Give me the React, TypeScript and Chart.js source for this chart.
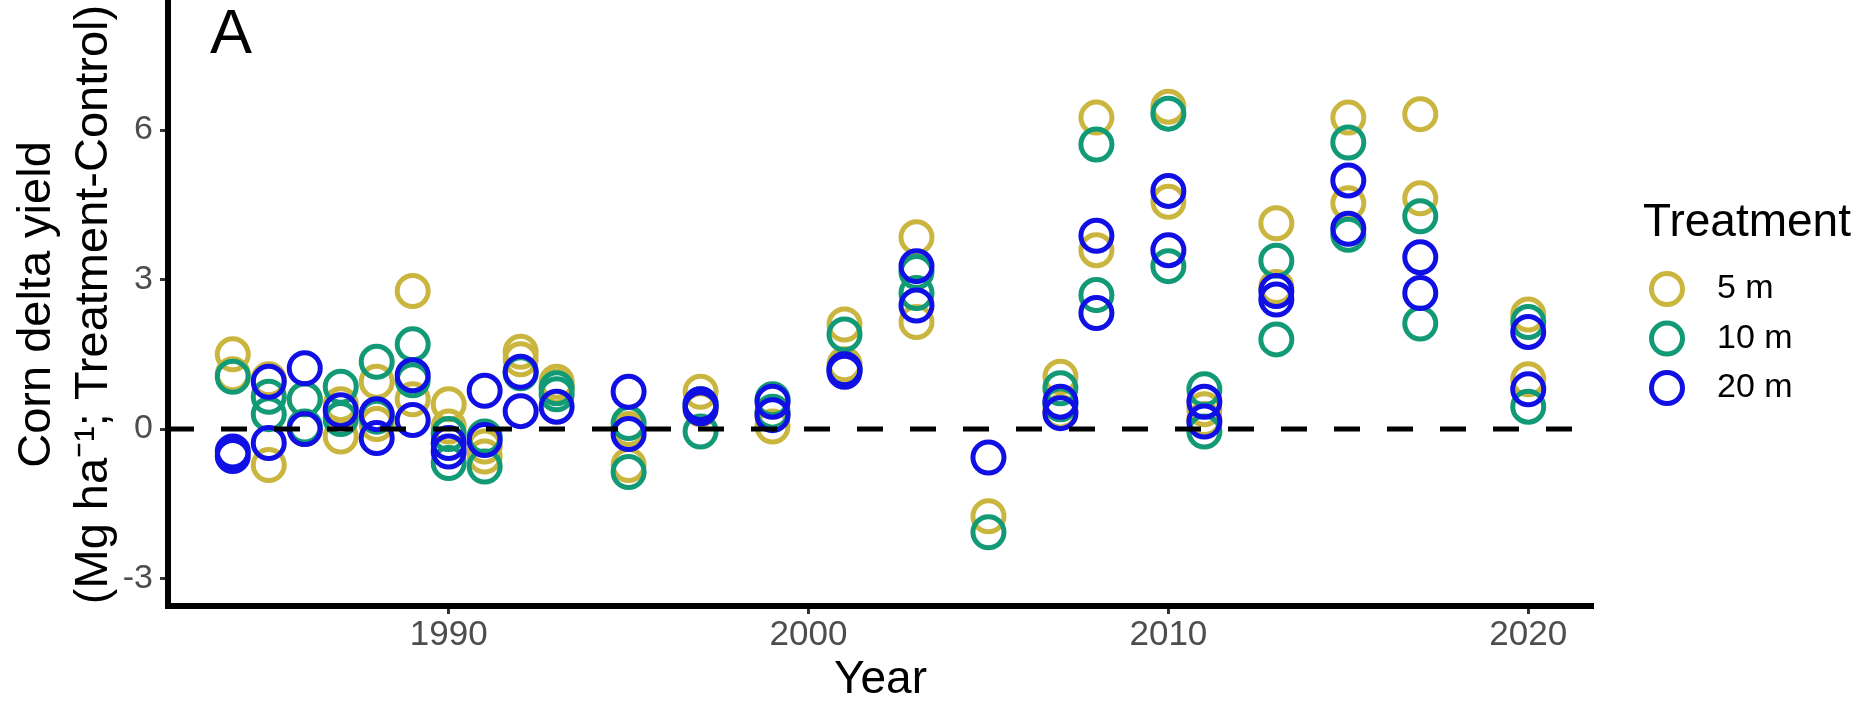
import React, { useEffect, useRef } from 'react';
import { Chart, registerables } from 'chart.js';

Chart.register(...registerables);

const FONT = "'Liberation Sans', Arial, sans-serif";

// Harvest years with yield deltas
const years = [
  1984, 1985, 1986, 1987, 1988, 1989, 1990, 1991, 1992, 1993, 1995, 1997,
  1999, 2001, 2003, 2005, 2007, 2008, 2010, 2011, 2013, 2015, 2017, 2020,
];

// Corn delta yield (Mg/ha, treatment minus control), two plots per year;
// null where a year has a single value
const delta5m: (number | null)[][] = [
  [1.5, 1.1], [1.0, -0.72], [0.6, 0.0], [0.5, -0.15], [0.95, 0.1], [2.77, 0.6],
  [0.5, 0.05], [-0.35, -0.55], [1.55, 1.4], [0.95, 0.85], [0.0, -0.72], [0.75, 0.4],
  [0.3, 0.05], [2.1, 1.3], [3.85, 2.15], [-1.75, null], [1.05, 0.35], [6.25, 3.59],
  [6.47, 4.56], [0.4, 0.2], [4.13, 2.85], [6.25, 4.53], [6.32, 4.63], [2.3, 1.0],
];
const delta10m: (number | null)[][] = [
  [1.05, null], [0.65, 0.3], [0.6, 0.05], [0.85, 0.2], [1.35, 0.25], [1.7, 0.98],
  [-0.1, -0.68], [-0.15, -0.75], [1.12, null], [0.82, 0.7], [0.12, -0.86], [0.5, -0.05],
  [0.6, 0.35], [1.9, 1.2], [3.15, 2.73], [-2.07, null], [0.82, 0.5], [5.71, 2.69],
  [6.33, 3.27], [0.8, -0.05], [3.38, 1.8], [5.75, 3.9], [4.27, 2.12], [2.15, 0.45],
];
const delta20m: (number | null)[][] = [
  [-0.45, -0.54], [0.95, -0.28], [1.22, 0.0], [0.38, null], [0.3, -0.18], [1.08, 0.18],
  [-0.28, -0.45], [0.77, -0.22], [1.15, 0.36], [0.45, null], [0.75, -0.1], [0.5, 0.42],
  [0.55, 0.28], [1.2, 1.15], [3.27, 2.48], [-0.57, null], [0.55, 0.32], [3.88, 2.33],
  [4.78, 3.59], [0.55, 0.15], [2.77, 2.6], [4.99, 4.02], [3.45, 2.73], [1.95, 0.8],
];

const treatments = ['5 m', '10 m', '20 m'];
const treatmentColors = ['#CAB63E', '#129A76', '#1010E4'];
const seriesValues = [delta5m, delta10m, delta20m];

const xTicks = [1990, 2000, 2010, 2020];
const yTicks = [-3, 0, 3, 6];
const xRange = [1982.2, 2021.8];
const yRange = [-3.55, 8.55];
const referenceY = 0;

const RING_RADIUS = 15.5;
const RING_WIDTH = 5;

const toPoints = (values: (number | null)[][]) =>
  years.flatMap((yr, i) =>
    values[i].filter((v) => v !== null).map((v) => ({ x: yr, y: v as number }))
  );

// Legend box with the treatment title and ring keys
const treatmentLegend = {
  id: 'treatmentLegend',
  afterDraw(chart: any) {
    const { ctx, chartArea } = chart;
    const left = chartArea.right + 50;
    ctx.save();
    ctx.fillStyle = '#000';
    ctx.textAlign = 'left';
    ctx.textBaseline = 'alphabetic';
    ctx.font = `46px ${FONT}`;
    ctx.fillText('Treatment', left, 236);
    treatments.forEach((name, i) => {
      const cy = 289 + i * 49.5;
      ctx.beginPath();
      ctx.arc(left + 24, cy, RING_RADIUS, 0, Math.PI * 2);
      ctx.lineWidth = RING_WIDTH;
      ctx.strokeStyle = treatmentColors[i];
      ctx.stroke();
      ctx.fillStyle = '#000';
      ctx.font = `34px ${FONT}`;
      ctx.textBaseline = 'middle';
      ctx.fillText(name, left + 74, cy);
    });
    ctx.restore();
  },
};

// Panel tag in the top-left corner
const panelTag = {
  id: 'panelTag',
  afterDraw(chart: any) {
    const { ctx } = chart;
    ctx.save();
    ctx.fillStyle = '#000';
    ctx.font = `63px ${FONT}`;
    ctx.textAlign = 'left';
    ctx.textBaseline = 'alphabetic';
    ctx.fillText('A', 210, 53);
    ctx.restore();
  },
};

export default function App() {
  const canvasRef = useRef<HTMLCanvasElement | null>(null);

  useEffect(() => {
    if (!canvasRef.current) return;

    const pointSets = treatments.map((name, i) => ({
      type: 'scatter' as const,
      label: name,
      data: toPoints(seriesValues[i]),
      order: 3 - i,
      pointStyle: 'circle',
      pointRadius: RING_RADIUS,
      pointHoverRadius: RING_RADIUS,
      pointBorderWidth: RING_WIDTH,
      pointBackgroundColor: 'rgba(0,0,0,0)',
      pointBorderColor: treatmentColors[i],
      backgroundColor: 'rgba(0,0,0,0)',
      borderColor: treatmentColors[i],
    }));

    const zeroLine = {
      type: 'line' as const,
      label: 'zero',
      data: [
        { x: xRange[0], y: referenceY },
        { x: xRange[1], y: referenceY },
      ],
      order: 0,
      borderColor: '#000',
      borderWidth: 5,
      borderDash: [26, 27],
      pointRadius: 0,
      fill: false,
    };

    const chart = new Chart(canvasRef.current, {
      type: 'scatter',
      data: { datasets: [...pointSets, zeroLine] as any },
      plugins: [treatmentLegend, panelTag],
      options: {
        animation: false,
        responsive: true,
        maintainAspectRatio: false,
        events: [],
        layout: { autoPadding: false, padding: { left: 0, top: 3, right: 267, bottom: 0 } },
        plugins: {
          legend: { display: false },
          tooltip: { enabled: false },
        },
        scales: {
          x: {
            type: 'linear',
            min: xRange[0],
            max: xRange[1],
            afterBuildTicks: (s: any) => {
              s.ticks = xTicks.map((v) => ({ value: v }));
            },
            afterFit: (s: any) => {
              s.height = 96;
              s.paddingLeft = 0;
              s.paddingRight = 0;
            },
            ticks: {
              callback: (v: any) => String(v),
              font: { family: FONT, size: 35 },
              color: '#4D4D4D',
              padding: 0,
              maxRotation: 0,
              autoSkip: false,
            },
            grid: {
              display: true,
              drawOnChartArea: false,
              drawTicks: true,
              tickLength: 8,
              tickWidth: 3,
              tickColor: '#333333',
            },
            border: { display: true, color: '#000', width: 6 },
            title: {
              display: true,
              text: 'Year',
              color: '#000',
              font: { family: FONT, size: 46, lineHeight: 0.93 },
              padding: 0,
            },
          },
          y: {
            type: 'linear',
            min: yRange[0],
            max: yRange[1],
            afterBuildTicks: (s: any) => {
              s.ticks = yTicks.map((v) => ({ value: v }));
            },
            afterFit: (s: any) => {
              s.width = 168;
              s.paddingTop = 0;
              s.paddingBottom = 0;
            },
            ticks: {
              callback: (v: any) => String(v),
              font: { family: FONT, size: 34 },
              color: '#4D4D4D',
              padding: 7,
            },
            grid: {
              display: true,
              drawOnChartArea: false,
              drawTicks: true,
              tickLength: 8,
              tickWidth: 3,
              tickColor: '#333333',
            },
            border: { display: true, color: '#000', width: 6 },
            title: {
              display: true,
              text: ['Corn delta yield', '(Mg ha\u207B\u00B9; Treatment-Control)'],
              color: '#000',
              font: { family: FONT, size: 47, lineHeight: 1.213 },
              padding: { top: 8.5, bottom: 0 },
            },
          },
        },
      },
    });

    return () => chart.destroy();
  }, []);

  return (
    <div style={{ position: 'fixed', left: 0, top: 0, width: 1860, height: 702, background: '#fff' }}>
      <canvas ref={canvasRef} />
    </div>
  );
}
